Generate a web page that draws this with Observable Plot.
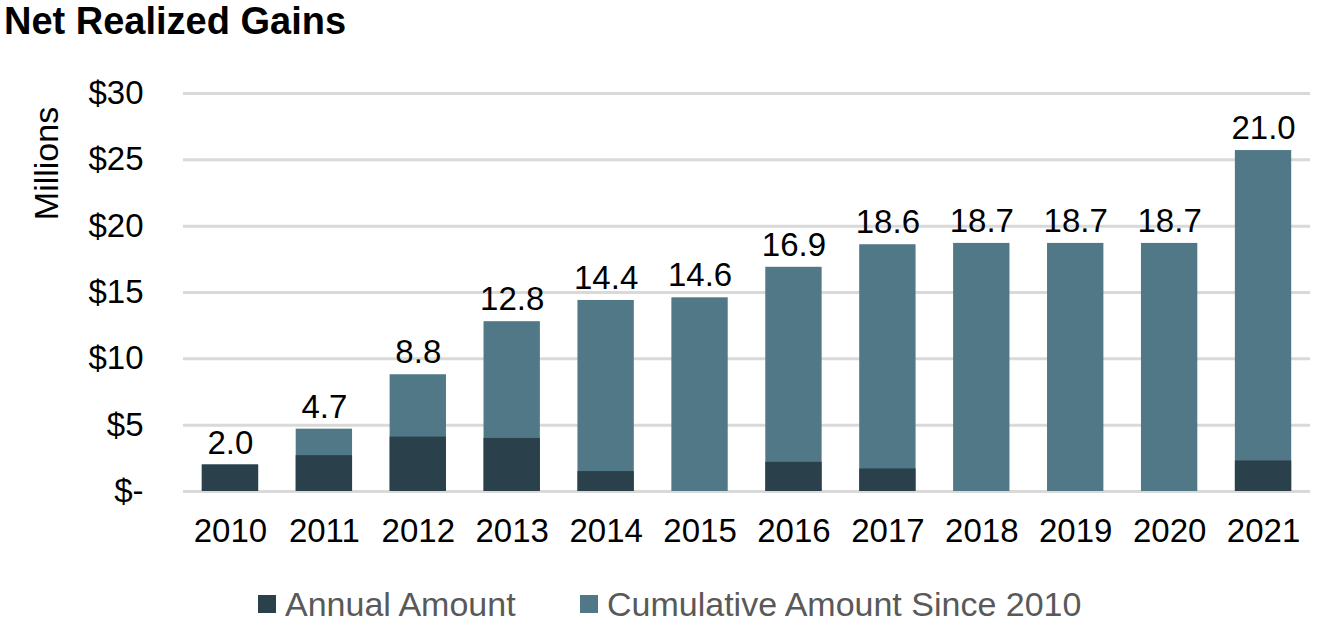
<!DOCTYPE html>
<html>
<head>
<meta charset="utf-8">
<script src="https://cdn.jsdelivr.net/npm/d3@7"></script>
<script src="https://cdn.jsdelivr.net/npm/@observablehq/plot@0.6"></script>
<style>
  html, body { margin: 0; padding: 0; background: #fff; }
  #wrap { position: relative; width: 1324px; height: 631px; font-family: "Liberation Sans", Arial, sans-serif; }
  #title { position: absolute; left: 4px; top: 1px; font-size: 38px; line-height: 40px; font-weight: bold; color: #000; white-space: nowrap; }
  #chart { position: absolute; left: 0; top: 0; }
  #legend { position: absolute; top: 584px; left: 0; width: 1324px; font-size: 34px; color: #595959; white-space: nowrap; }
  .item { position: absolute; top: 0; display: flex; align-items: center; height: 40px; }
  .sw { width: 18px; height: 18px; display: inline-block; margin-right: 9px; }
</style>
</head>
<body>
<div id="wrap">
  <div id="chart"></div>
  <div id="title">Net Realized Gains</div>
  <div id="legend"></div>
</div>
<script>
const years = ["2010","2011","2012","2013","2014","2015","2016","2017","2018","2019","2020","2021"];
const annualAmount = [2.0, 2.7, 4.1, 4.0, 1.5, 0, 2.2, 1.7, 0, 0, 0, 2.3];
const cumulativeBar = [2.0, 4.7, 8.8, 12.8, 14.4, 14.6, 16.9, 18.6, 18.7, 18.7, 18.7, 25.7];
const cumulativeLabel = [2.0, 4.7, 8.8, 12.8, 14.4, 14.6, 16.9, 18.6, 18.7, 18.7, 18.7, 21.0];
const yTicks = [0, 5, 10, 15, 20, 25, 30];
const seriesNames = ["Annual Amount", "Cumulative Amount Since 2010"];
const seriesColors = ["#2a404b", "#517887"];

const rows = years.map((y, i) => ({year: y, annual: annualAmount[i], cum: cumulativeBar[i], label: cumulativeLabel[i]}));

const chart = Plot.plot({
  width: 1324,
  height: 575,
  marginLeft: 183,
  marginRight: 14,
  marginTop: 93,
  marginBottom: 84,
  style: {fontFamily: "'Liberation Sans', Arial, sans-serif", fontSize: "33px", color: "#000", background: "transparent"},
  x: {domain: years, paddingInner: 0.4, paddingOuter: 0.2, round: false, label: null},
  y: {domain: [0, 30], label: null},
  marks: [
    Plot.gridY(yTicks, {stroke: "#d9d9d9", strokeOpacity: 1, strokeWidth: 3}),
    Plot.axisY({ticks: yTicks, tickSize: 0, tickPadding: 40, tickFormat: d => d === 0 ? "$-" : "$" + d, label: null, fontSize: 33}),
    Plot.axisX({tickSize: 0, tickPadding: 27, label: null, fontSize: 33}),
    Plot.barY(rows, {x: "year", y: "cum", fill: seriesColors[1]}),
    Plot.barY(rows, {x: "year", y: "annual", fill: seriesColors[0]}),
    Plot.text(rows, {x: "year", y: "cum", text: d => d3.format(".1f")(d.label), dy: -22, fontSize: 33, fill: "#000"}),
    Plot.text(["Millions"], {frameAnchor: "top-left", textAnchor: "middle", lineAnchor: "middle", dx: -136, dy: 70, rotate: -90, fontSize: 34, fill: "#000"})
  ]
});
document.getElementById("chart").appendChild(chart);

const legend = document.getElementById("legend");
const lx = [258, 580];
seriesNames.forEach((n, i) => {
  const it = document.createElement("div");
  it.className = "item";
  it.style.left = lx[i] + "px";
  it.innerHTML = `<span class="sw" style="background:${seriesColors[i]}"></span><span>${n}</span>`;
  legend.appendChild(it);
});
</script>
</body>
</html>
